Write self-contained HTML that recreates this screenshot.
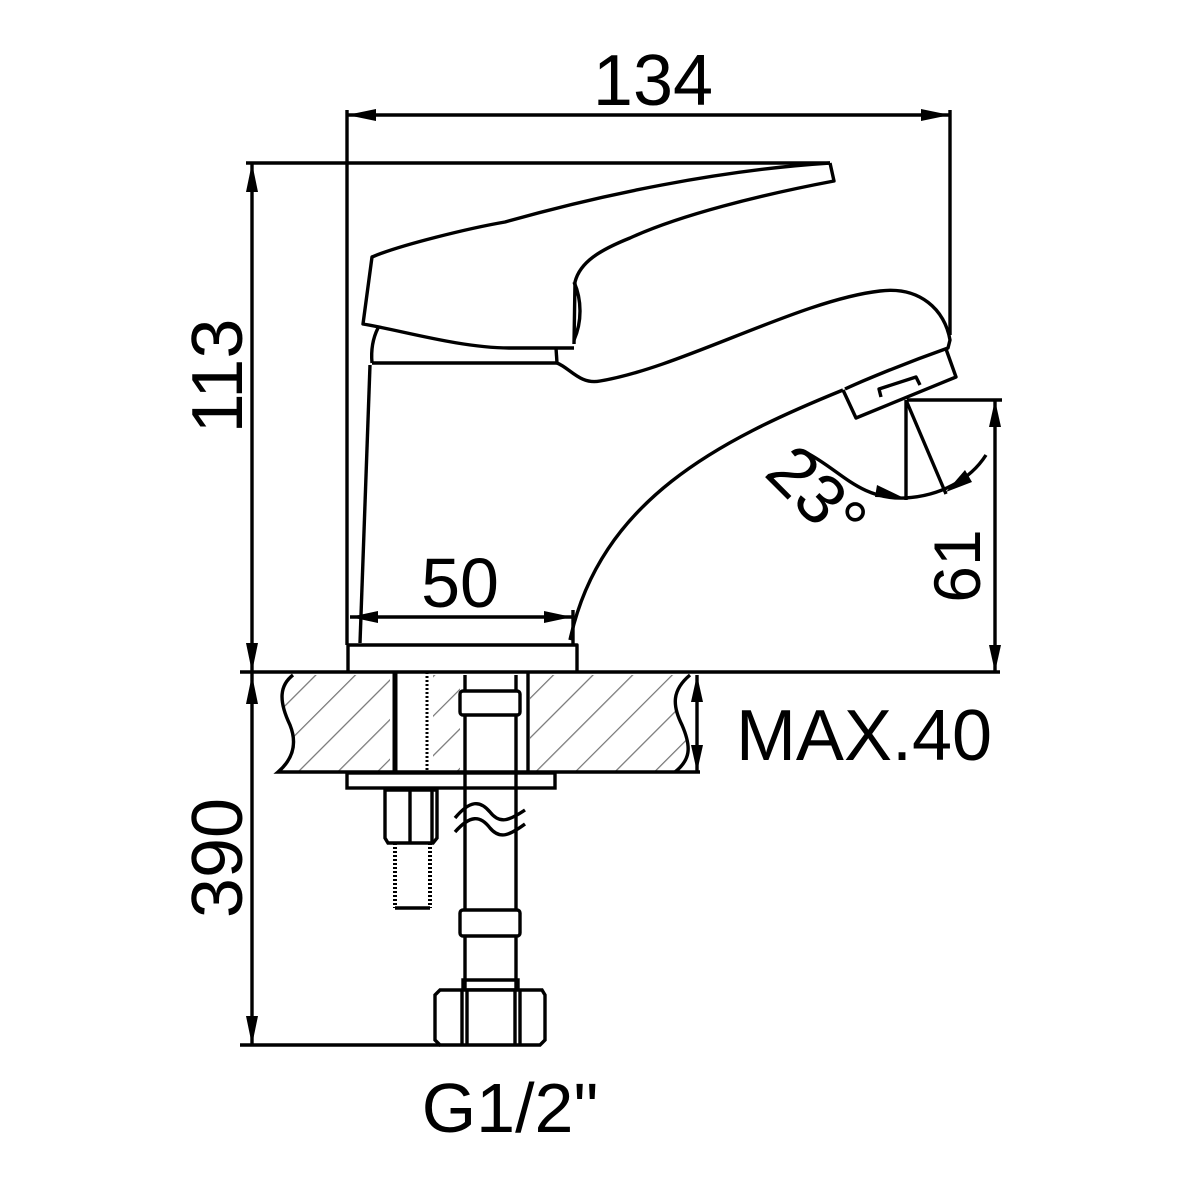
<!DOCTYPE html>
<html><head><meta charset="utf-8"><style>html,body{margin:0;padding:0;background:#fff}svg{display:block}</style></head>
<body>
<svg width="1200" height="1200" viewBox="0 0 1200 1200" xmlns="http://www.w3.org/2000/svg">
<defs>
<pattern id="h" patternUnits="userSpaceOnUse" width="28" height="28" patternTransform="rotate(45)">
<line x1="0" y1="0" x2="0" y2="28" stroke="#777" stroke-width="2.5"/>
</pattern>
</defs>
<g fill="none" stroke="#000" stroke-width="3.4" stroke-linejoin="round">
<line x1="347" y1="110" x2="347" y2="645"/>
<line x1="950" y1="110" x2="950" y2="335"/>
<line x1="347" y1="115" x2="950" y2="115"/>
<line x1="246" y1="163" x2="830" y2="163"/>
<line x1="252" y1="163" x2="252" y2="672"/>
<path d="M830,163 L834,181 C760,195 680,215 630,238 C600,250 580,262 575,282 L574,344"/>
<path d="M830,163 C720,170 600,195 505,222 C470,228 400,245 372,257 L363,324 C400,330 460,348 510,348 L574,348"/>
<path d="M574,282 C582,300 582,322 574,340"/>
<path d="M378,328 C372,340 371,352 372,363"/>
<line x1="556" y1="348" x2="557" y2="363"/>
<line x1="372" y1="363" x2="557" y2="363"/>
<path d="M370,365 L360,643"/>
<path d="M557,363 C570,368 580,385 600,381 C680,368 800,300 880,291 C920,286 945,310 950,340 L948,348 C900,365 860,382 845,389"/>
<path d="M843,390 L856,418 L956,377 L946,349"/>
<path d="M881,397 L879,389 L916,377 L920,385"/>
<path d="M843,390 C720,440 600,500 570,640"/>
<path d="M348,672 L348,645 L577,645 L577,672"/>
<line x1="350" y1="617" x2="572" y2="617"/>
<line x1="573" y1="610" x2="573" y2="645"/>
<line x1="907" y1="400" x2="1002" y2="400"/>
<line x1="995" y1="400" x2="995" y2="672"/>
<line x1="906" y1="400" x2="906" y2="500"/>
<line x1="906" y1="400" x2="946" y2="494"/>
<path d="M807,453 C840,470 860,500 905,498 C940,496 970,480 986,455"/>
<line x1="240" y1="672" x2="1000" y2="672"/>
<line x1="240" y1="1045" x2="440" y2="1045"/>
<line x1="252" y1="672" x2="252" y2="1045"/>
<line x1="697" y1="675" x2="697" y2="772"/>
</g>
<path d="M280,675 L690,675 C672,690 672,705 682,725 C692,748 690,760 675,772 L278,772 C292,760 298,745 290,725 C278,700 280,685 293,675 Z" fill="url(#h)" stroke="none"/>
<rect x="390" y="674" width="43" height="100" fill="#fff"/>
<rect x="460" y="674" width="70" height="100" fill="#fff"/>
<g fill="none" stroke="#000" stroke-width="3.4">
<path d="M293,675 C280,685 278,700 290,725 C298,745 292,760 278,772 L700,772"/>
<path d="M690,675 C672,690 672,705 682,725 C692,748 690,760 675,772"/>
<line x1="395" y1="672" x2="395" y2="772" stroke-width="5"/>
<line x1="427" y1="672" x2="427" y2="772" stroke-dasharray="2,2" stroke-width="3"/>
<line x1="528" y1="672" x2="528" y2="772"/>
<rect x="347" y="773" width="208" height="15"/>
<path d="M385,790 L437,790 L437,838 L433,843 L388,843 L385,838 Z"/>
<line x1="410" y1="790" x2="410" y2="843"/>
<line x1="432" y1="790" x2="432" y2="843"/>
<line x1="395" y1="843" x2="395" y2="908" stroke-dasharray="2,2" stroke-width="4"/>
<line x1="430" y1="843" x2="430" y2="908" stroke-dasharray="2,2" stroke-width="4"/>
<line x1="395" y1="908" x2="430" y2="908"/>
<line x1="465" y1="675" x2="465" y2="990"/>
<line x1="516" y1="675" x2="516" y2="990"/>
<rect x="460" y="691" width="60" height="24" rx="3" fill="#fff"/>
<rect x="460" y="910" width="60" height="26" rx="3" fill="#fff"/>
<path d="M455,818 C470,800 480,800 490,812 C500,825 510,820 525,810"/>
<path d="M455,832 C470,815 480,815 490,828 C500,840 510,835 525,824"/>
<path d="M463,980 L518,980 L518,990 L463,990 Z"/>
<path d="M440,990 L542,990 L545,995 L545,1040 L540,1045 L440,1045 L435,1040 L435,995 Z" fill="#fff"/>
<line x1="462" y1="990" x2="462" y2="1045"/>
<line x1="467" y1="990" x2="467" y2="1045"/>
<line x1="515" y1="990" x2="515" y2="1045"/>
<line x1="520" y1="990" x2="520" y2="1045"/>
</g>
<g fill="#000">
<polygon points="347,115 376,109 376,121"/>
<polygon points="950,115 921,109 921,121"/>
<polygon points="252,163 246,192 258,192"/>
<polygon points="252,672 246,643 258,643"/>
<polygon points="350,617 378,611 378,623"/>
<polygon points="572,617 544,611 544,623"/>
<polygon points="995,400 989,427 1001,427"/>
<polygon points="995,672 989,645 1001,645"/>
<polygon points="697,675 691,702 703,702"/>
<polygon points="697,772 691,745 703,745"/>
<polygon points="252,675 246,704 258,704"/>
<polygon points="252,1045 246,1016 258,1016"/>
<polygon points="904,498 877,485 875,497"/>
<polygon points="946,492 965,470 972,482"/>
</g>
<g font-family="Liberation Sans, sans-serif" fill="#000">
<text x="653" y="105" font-size="72" text-anchor="middle">134</text>
<text x="460" y="607" font-size="70" text-anchor="middle">50</text>
<text x="864" y="760" font-size="72" text-anchor="middle">MAX.40</text>
<text x="510" y="1132" font-size="70" text-anchor="middle">G1/2"</text>
<text transform="translate(242,376) rotate(-90)" font-size="72" text-anchor="middle">113</text>
<text transform="translate(242,858) rotate(-90)" font-size="72" text-anchor="middle">390</text>
<text transform="translate(980,566) rotate(-90)" font-size="66" text-anchor="middle">61</text>
<text transform="translate(800,512) rotate(45)" font-size="70" text-anchor="middle">23°</text>
</g>
</svg>
</body></html>
